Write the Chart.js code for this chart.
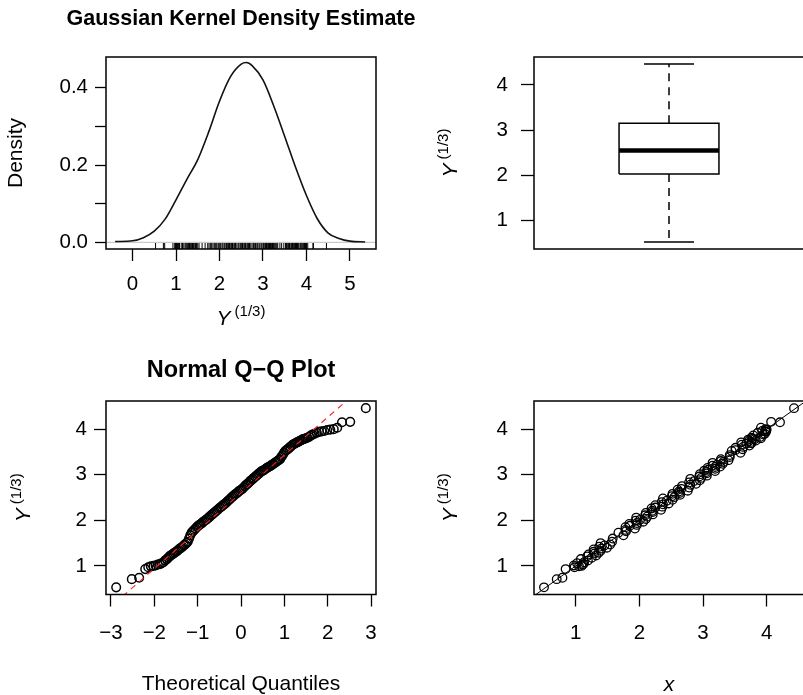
<!DOCTYPE html>
<html lang="en">
<head>
<meta charset="UTF-8">
<title>Y^(1/3): density, boxplot and Q-Q plot</title>
<script src="https://cdn.jsdelivr.net/npm/chart.js"></script>
<style>
  html, body { margin: 0; padding: 0; background: #fff; overflow: hidden; }
  body { position: relative; width: 803px; height: 695px; }
  canvas { position: absolute; }
</style>
</head>
<body>
<canvas id="kde" width="482" height="347" style="left:0;top:0"></canvas>
<canvas id="box" width="400" height="347" style="left:420px;top:0"></canvas>
<canvas id="qq" width="482" height="348" style="left:0;top:347px"></canvas>
<canvas id="fit" width="400" height="348" style="left:420px;top:347px"></canvas>
<script>
// Y^(1/3), sorted (rug, Q-Q sample quantiles, y of the last panel)
const sampleY = [
  0.53, 0.71, 0.74, 0.93, 0.97, 0.99, 1.00, 1.01, 1.03, 1.04, 1.06, 1.08, 1.12, 1.15, 1.18, 1.21, 1.23, 1.25, 1.27, 1.29,
  1.31, 1.33, 1.36, 1.38, 1.40, 1.42, 1.45, 1.47, 1.50, 1.53,
  1.60, 1.67, 1.73, 1.76, 1.79, 1.82, 1.85, 1.88, 1.90, 1.92,
  1.94, 1.97, 1.99, 2.01, 2.03, 2.06, 2.08, 2.11, 2.13, 2.16,
  2.18, 2.21, 2.23, 2.26, 2.28, 2.30, 2.33, 2.35, 2.37, 2.40,
  2.43, 2.45, 2.48, 2.51, 2.53, 2.56, 2.58, 2.60, 2.63, 2.65,
  2.67, 2.69, 2.72, 2.75, 2.78, 2.80, 2.83, 2.86, 2.88, 2.91,
  2.93, 2.96, 2.98, 3.01, 3.03, 3.06, 3.08, 3.09, 3.11, 3.13,
  3.15, 3.17, 3.18, 3.20, 3.22, 3.24, 3.26, 3.28, 3.30, 3.32,
  3.34, 3.39, 3.43, 3.48, 3.52, 3.54, 3.56, 3.59, 3.61, 3.64,
  3.66, 3.68, 3.69, 3.71, 3.72, 3.74, 3.75, 3.77, 3.78, 3.79,
  3.80,
  3.81, 3.83, 3.86, 3.88, 3.90, 3.92, 3.94, 3.95, 3.96, 3.98, 3.99, 4.00, 4.03, 4.15, 4.16, 4.46
];
// theoretical quantiles
const qqTheo = [
  -2.88, -2.52, -2.35, -2.21, -2.14, -2.08, -2.02, -1.97, -1.92, -1.87, -1.83, -1.79, -1.75, -1.71, -1.68, -1.65, -1.62, -1.59, -1.56, -1.53,
  -1.50, -1.47, -1.44, -1.41, -1.38, -1.35, -1.32, -1.29, -1.26, -1.23,
  -1.20, -1.17, -1.14, -1.11, -1.08, -1.05, -1.02, -0.99, -0.96, -0.93,
  -0.90, -0.87, -0.84, -0.81, -0.78, -0.75, -0.72, -0.69, -0.66, -0.63,
  -0.60, -0.57, -0.54, -0.51, -0.48, -0.45, -0.42, -0.39, -0.36, -0.33,
  -0.30, -0.27, -0.24, -0.21, -0.18, -0.15, -0.12, -0.09, -0.06, -0.03,
  0.00, 0.03, 0.06, 0.09, 0.12, 0.15, 0.18, 0.21, 0.24, 0.27,
  0.30, 0.33, 0.36, 0.39, 0.42, 0.45, 0.48, 0.51, 0.54, 0.57,
  0.60, 0.63, 0.66, 0.69, 0.72, 0.75, 0.78, 0.81, 0.84, 0.87,
  0.90, 0.93, 0.96, 0.99, 1.02, 1.05, 1.08, 1.11, 1.14, 1.17,
  1.20, 1.23, 1.26, 1.29, 1.32, 1.35, 1.38, 1.41, 1.44, 1.47,
  1.50,
  1.53, 1.57, 1.61, 1.65, 1.70, 1.75, 1.80, 1.86, 1.92, 1.99, 2.06, 2.14, 2.22, 2.33, 2.52, 2.88
];
// x of the last panel, paired with sampleY
const fitX = [
  0.50, 0.70, 0.79, 0.84, 0.98, 1.05, 1.09, 0.97, 1.10, 1.12, 1.02, 1.13, 1.19, 1.08, 1.25, 1.18, 1.32, 1.20, 1.29, 1.36,
  1.28, 1.39, 1.28, 1.40, 1.49, 1.37, 1.45, 1.54, 1.39, 1.57,
  1.58, 1.75, 1.67, 1.79, 1.78, 1.93, 1.78, 1.85, 1.96, 1.84,
  1.96, 2.06, 1.94, 2.01, 2.10, 1.95, 2.12, 2.09, 2.21, 2.10,
  2.21, 2.20, 2.34, 2.19, 2.25, 2.36, 2.25, 2.37, 2.46, 2.35,
  2.43, 2.52, 2.37, 2.55, 2.51, 2.64, 2.52, 2.63, 2.62, 2.76,
  2.60, 2.66, 2.78, 2.67, 2.80, 2.89, 2.78, 2.86, 2.95, 2.80,
  2.97, 2.94, 3.06, 2.95, 3.06, 3.05, 3.19, 3.02, 3.08, 3.19,
  3.07, 3.19, 3.27, 3.15, 3.22, 3.31, 3.15, 3.32, 3.28, 3.40,
  3.28, 3.42, 3.42, 3.59, 3.45, 3.51, 3.62, 3.51, 3.63, 3.73,
  3.61, 3.68, 3.76, 3.60, 3.76, 3.72, 3.83, 3.71, 3.81, 3.78,
  3.91,
  3.76, 3.90, 3.79, 3.95, 3.97, 3.86, 3.99, 3.98, 3.93, 3.99, 4.00, 3.98, 3.91, 4.21, 4.07, 4.43
];

// kernel density curve
const kdeX = [-0.40, 0.00, 0.25, 0.50, 0.75, 1.00, 1.25, 1.50, 1.75, 2.00, 2.25, 2.50, 2.62, 2.75, 3.00, 3.25, 3.50, 3.75, 4.00, 4.25, 4.50, 4.75, 5.00, 5.35];
const kdeY = [0.002, 0.004, 0.012, 0.029, 0.060, 0.110, 0.163, 0.214, 0.285, 0.365, 0.428, 0.461, 0.465, 0.457, 0.420, 0.352, 0.274, 0.194, 0.121, 0.061, 0.024, 0.010, 0.003, 0.001];

// boxplot: lower whisker, Q1, median, Q3, upper whisker
const boxFive = [0.53, 2.03, 2.55, 3.15, 4.46];
// qqline: intercept, slope
const qqRef = [2.6, 0.83];

// axis limits and ticks
const kdeXLim = [-0.61, 5.6];
const densityLim = [-0.0173, 0.4794];
const yLim = [0.373, 4.617];
const qqXLim = [-3.115, 3.115];
const fitXLim = [0.343, 4.587];
const kdeXTicks = [0, 1, 2, 3, 4, 5];
const densityTicks = [0, 0.1, 0.2, 0.3, 0.4];
const densityLabels = ['0.0', '', '0.2', '', '0.4'];
const yTicks = [1, 2, 3, 4];
const qqTicks = [-3, -2, -1, 0, 1, 2, 3];
const qqLabels = ['\u22123', '\u22122', '\u22121', '0', '1', '2', '3'];
const fitTicks = [1, 2, 3, 4];

const FONT = '"Liberation Sans", Arial, Helvetica, sans-serif';
Chart.defaults.font.family = FONT;
Chart.defaults.color = '#000';

// R-style box around the plot region
const frame = {
  id: 'frame',
  afterDatasetsDraw(chart) {
    const { ctx, chartArea: a } = chart;
    ctx.save();
    ctx.strokeStyle = '#000';
    ctx.lineWidth = 1.5;
    ctx.strokeRect(a.left, a.top, a.right - a.left, a.bottom - a.top);
    ctx.restore();
  }
};

// axis title with a superscript, e.g. Y^(1/3)
const supLabel = {
  id: 'supLabel',
  afterDraw(chart, args, o) {
    if (!o.side) return;
    const { ctx, chartArea: a } = chart;
    ctx.save();
    ctx.fillStyle = '#000';
    ctx.textBaseline = 'alphabetic';
    ctx.textAlign = 'left';
    if (o.side === 'bottom') {
      ctx.translate((a.left + a.right) / 2 + (o.dx || 0), a.bottom + o.offset);
    } else {
      ctx.translate(a.left - o.offset, (a.top + a.bottom) / 2);
      ctx.rotate(-Math.PI / 2);
    }
    const big = 'italic 21px ' + FONT, small = '15px ' + FONT;
    ctx.font = big;
    const w1 = ctx.measureText('Y').width;
    ctx.font = small;
    const w2 = ctx.measureText('(1/3)').width;
    const x0 = -(w1 + 4 + w2) / 2;
    ctx.font = big;
    ctx.fillText('Y', x0, 0);
    ctx.font = small;
    ctx.fillText('(1/3)', x0 + w1 + 4, -9);
    ctx.restore();
  }
};

function rAxis(lim, ticks, labels, size, tick, extra) {
  return Object.assign({
    type: 'linear',
    min: lim[0],
    max: lim[1],
    afterBuildTicks: s => { s.ticks = ticks.map(v => ({ value: v })); },
    afterFit: s => { if (s.isHorizontal()) s.height = size; else s.width = size; },
    grid: { drawOnChartArea: false, drawTicks: true, tickLength: tick[0], tickWidth: 1.3, tickColor: '#000', color: '#000' },
    border: { display: false },
    ticks: {
      autoSkip: false, maxRotation: 0, padding: tick[1], color: '#000',
      font: { size: 20.5 },
      callback: (v, i) => labels ? labels[i] : String(v)
    }
  }, extra || {});
}

// empty right-hand axis so the main title centres over the plot region
function spacer(size) {
  return {
    type: 'linear', position: 'right', min: 0, max: 1,
    grid: { display: false }, border: { display: false }, ticks: { display: false },
    afterFit: s => { s.width = size; }
  };
}

function baseOptions(padding, title, sup) {
  return {
    responsive: false,
    animation: false,
    devicePixelRatio: 1,
    layout: { padding },
    plugins: {
      legend: { display: false },
      tooltip: { enabled: false },
      title: title || { display: false },
      supLabel: sup || {}
    }
  };
}

const pts = (xs, ys) => xs.map((x, i) => ({ x, y: ys[i] }));

// Gaussian kernel density estimate with rug
const kdeOpts = baseOptions(
  { top: 6, right: 0, bottom: 0, left: 0 },
  { display: true, text: 'Gaussian Kernel Density Estimate', color: '#000',
    font: { size: 21.5, weight: 'bold' }, padding: { top: 0, bottom: 25.2 } },
  { side: 'bottom', offset: 76, dx: 0 }
);
kdeOpts.scales = {
  x: rAxis(kdeXLim, kdeXTicks, null, 98, [12, 11]),
  y: rAxis(densityLim, densityTicks, densityLabels, 106, [11, 7],
    { title: { display: true, text: 'Density', color: '#000', font: { size: 21 }, padding: { top: 4 } } }),
  yR: spacer(106)
};
new Chart(document.getElementById('kde'), {
  type: 'scatter',
  data: {
    datasets: [
      { type: 'line', data: pts(kdeX, kdeY), borderColor: '#111', borderWidth: 1.6,
        pointRadius: 0, cubicInterpolationMode: 'monotone', clip: 0 },
      { type: 'line', data: pts(kdeXLim, [0, 0]), borderColor: '#bdbdbd', borderWidth: 1, pointRadius: 0 },
      { data: sampleY.map(x => ({ x, y: densityLim[0] })), pointStyle: 'line', pointRotation: 90,
        pointRadius: 6, pointBorderWidth: 1, pointBorderColor: '#000', clip: 0 }
    ]
  },
  options: kdeOpts,
  plugins: [frame, supLabel]
});

// boxplot
const [bLo, bQ1, bMed, bQ3, bHi] = boxFive;
const boxHalf = 0.37, capHalf = 0.185;
const boxOpts = baseOptions({ top: 57, right: 16, bottom: 98, left: 0 }, null, { side: 'left', offset: 77 });
boxOpts.scales = {
  x: { type: 'linear', min: -1, max: 1, display: false },
  y: rAxis(yLim, yTicks, null, 114, [13, 13])
};
const seg = { type: 'line', borderColor: '#000', borderWidth: 1.5, pointRadius: 0, tension: 0 };
new Chart(document.getElementById('box'), {
  type: 'scatter',
  data: {
    datasets: [
      Object.assign({}, seg, { data: pts([-boxHalf, boxHalf], [bMed, bMed]), borderWidth: 4.5 }),
      Object.assign({}, seg, { data: pts([-boxHalf, boxHalf, boxHalf, -boxHalf, -boxHalf], [bQ1, bQ1, bQ3, bQ3, bQ1]) }),
      Object.assign({}, seg, { data: pts([0, 0], [bQ3, bHi]), borderDash: [8, 6] }),
      Object.assign({}, seg, { data: pts([0, 0], [bQ1, bLo]), borderDash: [8, 6] }),
      Object.assign({}, seg, { data: pts([-capHalf, capHalf], [bHi, bHi]) }),
      Object.assign({}, seg, { data: pts([-capHalf, capHalf], [bLo, bLo]) })
    ]
  },
  options: boxOpts,
  plugins: [frame, supLabel]
});

// normal Q-Q plot
const qqOpts = baseOptions(
  { top: 9.4, right: 0, bottom: 0, left: 0 },
  { display: true, text: 'Normal Q\u2212Q Plot', color: '#000',
    font: { size: 23.5, weight: 'bold' }, padding: { top: 0, bottom: 16.4 } },
  { side: 'left', offset: 76 }
);
qqOpts.scales = {
  x: rAxis(qqXLim, qqTicks, qqLabels, 100.5, [12, 15],
    { title: { display: true, text: 'Theoretical Quantiles', color: '#000', font: { size: 21 }, padding: { bottom: -2 } } }),
  y: rAxis(yLim, yTicks, null, 106, [12, 7]),
  yR: spacer(106)
};
const circles = { pointStyle: 'circle', pointRadius: 4.3, pointBorderWidth: 1.5,
  pointBorderColor: '#000', pointBackgroundColor: 'rgba(0,0,0,0)' };
new Chart(document.getElementById('qq'), {
  type: 'scatter',
  data: {
    datasets: [
      { type: 'line', data: qqXLim.map(x => ({ x, y: qqRef[0] + qqRef[1] * x })),
        borderColor: '#ff2020', borderWidth: 1.1, borderDash: [6, 5], pointRadius: 0, clip: 0 },
      Object.assign({ data: pts(qqTheo, sampleY) }, circles)
    ]
  },
  options: qqOpts,
  plugins: [frame, supLabel]
});

// Y^(1/3) against x, with the identity line
const fitOpts = baseOptions({ top: 54, right: 16, bottom: 0, left: 0 }, null, { side: 'left', offset: 77 });
fitOpts.scales = {
  x: rAxis(fitXLim, fitTicks, null, 100.5, [12, 15],
    { title: { display: true, text: 'x', color: '#000', font: { size: 21, style: 'italic' }, padding: { bottom: -3 } } }),
  y: rAxis(yLim, yTicks, null, 114, [13, 13])
};
new Chart(document.getElementById('fit'), {
  type: 'scatter',
  data: {
    datasets: [
      { type: 'line', data: pts(fitXLim, fitXLim), borderColor: '#000', borderWidth: 1,
        pointRadius: 0, clip: 0 },
      Object.assign({ data: pts(fitX, sampleY) }, circles, { pointBorderWidth: 1.3 })
    ]
  },
  options: fitOpts,
  plugins: [frame, supLabel]
});
</script>
</body>
</html>
